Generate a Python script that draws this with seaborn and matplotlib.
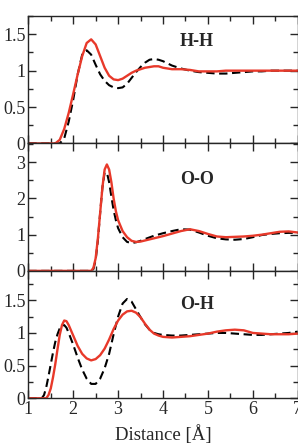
import matplotlib
matplotlib.use("Agg")
import matplotlib.pyplot as plt
import seaborn as sns
from matplotlib.ticker import MultipleLocator, FormatStrFormatter

# radial distribution functions
x_hh = [1.0, 1.2, 1.4, 1.5, 1.6, 1.7, 1.8, 1.9, 2.0, 2.1, 2.2, 2.3, 2.4, 2.5, 2.6, 2.7, 2.8, 2.9, 3.0,
        3.1, 3.2, 3.3, 3.4, 3.5, 3.6, 3.7, 3.8, 3.9, 4.0, 4.2, 4.4, 4.6, 4.8, 5.0, 5.2, 5.4, 5.6,
        5.8, 6.0, 6.2, 6.4, 6.6, 6.8, 7.0]
hh_red = [0, 0, 0, 0, 0.0, 0.05, 0.2, 0.42, 0.68, 0.95, 1.2, 1.38, 1.43, 1.36, 1.2, 1.04, 0.93, 0.88,
          0.87, 0.89, 0.93, 0.97, 1.0, 1.02, 1.04, 1.05, 1.06, 1.06, 1.04, 1.02, 1.02, 1.01, 0.99,
          0.99, 0.99, 1.0, 1.0, 1.0, 1.0, 1.0, 1.0, 1.0, 1.0, 1.0]
hh_black = [0, 0, 0, 0, 0, 0.0, 0.07, 0.3, 0.6, 0.95, 1.22, 1.28, 1.22, 1.08, 0.95, 0.86, 0.8, 0.77,
            0.76, 0.77, 0.82, 0.9, 0.98, 1.05, 1.11, 1.15, 1.16, 1.15, 1.13, 1.07, 1.03, 1.0, 0.98,
            0.97, 0.96, 0.96, 0.97, 0.98, 0.99, 0.99, 1.0, 1.0, 1.0, 1.0]

x_oo = [1.0, 1.5, 2.0, 2.3, 2.4, 2.45, 2.5, 2.55, 2.6, 2.65, 2.7, 2.75, 2.8, 2.85, 2.9, 2.95, 3.0,
        3.1, 3.2, 3.3, 3.4, 3.5, 3.6, 3.8, 4.0, 4.2, 4.4, 4.6, 4.8, 5.0, 5.2, 5.4, 5.6, 5.8, 6.0,
        6.2, 6.4, 6.6, 6.8, 7.0]
oo_red = [0, 0, 0, 0, 0.0, 0.08, 0.35, 0.9, 1.6, 2.3, 2.8, 2.94, 2.8, 2.45, 2.0, 1.65, 1.4, 1.1,
          0.93, 0.83, 0.8, 0.81, 0.84, 0.9, 0.96, 1.03, 1.1, 1.15, 1.1, 1.02, 0.95, 0.93, 0.94,
          0.95, 0.97, 1.0, 1.04, 1.08, 1.09, 1.06]
oo_black = [0, 0, 0, 0, 0, 0.05, 0.3, 0.85, 1.6, 2.3, 2.72, 2.72, 2.45, 2.05, 1.68, 1.4, 1.18, 0.93,
            0.8, 0.77, 0.79, 0.83, 0.88, 0.97, 1.04, 1.1, 1.15, 1.14, 1.06, 0.97, 0.9, 0.87, 0.86,
            0.88, 0.93, 0.99, 1.02, 1.04, 1.05, 1.05]

x_oh = [1.0, 1.2, 1.3, 1.35, 1.4, 1.45, 1.5, 1.55, 1.6, 1.65, 1.7, 1.75, 1.8, 1.85, 1.9, 2.0, 2.1,
        2.2, 2.3, 2.4, 2.5, 2.6, 2.7, 2.8, 2.9, 3.0, 3.1, 3.2, 3.3, 3.4, 3.5, 3.6, 3.7, 3.8, 3.9,
        4.0, 4.2, 4.4, 4.6, 4.8, 5.0, 5.2, 5.4, 5.6, 5.8, 6.0, 6.2, 6.4, 6.6, 6.8, 7.0]
oh_red = [0, 0, 0, 0, 0.0, 0.05, 0.15, 0.32, 0.52, 0.75, 0.97, 1.12, 1.19, 1.18, 1.12, 0.96, 0.8,
          0.68, 0.61, 0.58, 0.6, 0.66, 0.76, 0.9, 1.06, 1.19, 1.28, 1.33, 1.34, 1.31, 1.24, 1.14,
          1.05, 0.99, 0.96, 0.94, 0.93, 0.94, 0.95, 0.97, 0.99, 1.02, 1.04, 1.05, 1.04, 1.0, 0.99,
          0.98, 0.98, 0.98, 0.99]
oh_black = [0, 0, 0.0, 0.05, 0.17, 0.34, 0.52, 0.7, 0.86, 0.98, 1.07, 1.11, 1.12, 1.08, 1.0, 0.82,
            0.62, 0.44, 0.3, 0.22, 0.22, 0.3, 0.46, 0.68, 0.98, 1.25, 1.45, 1.52, 1.48, 1.36, 1.24,
            1.13, 1.05, 1.0, 0.98, 0.97, 0.96, 0.96, 0.97, 0.98, 0.99, 1.0, 1.0, 0.99, 0.98, 0.97,
            0.97, 0.98, 0.99, 1.0, 1.02]

panels = [
    ("H-H", x_hh, hh_red, hh_black, 1.75, 0.5, 1.40),
    ("O-O", x_oo, oo_red, oo_black, 3.52, 1.0, 2.53),
    ("O-H", x_oh, oh_red, oh_black, 1.95, 0.5, 1.44),
]

sns.set_style("ticks")
plt.rcParams["font.family"] = ["Liberation Serif", "DejaVu Serif"]

fig, axes = plt.subplots(3, 1, figsize=(2.98, 4.46), dpi=100, sharex=True)
fig.subplots_adjust(left=0.095, right=0.999, top=0.964, bottom=0.107, hspace=0)

for ax, (name, xs, red, black, ytop, ystep, ylab) in zip(axes, panels):
    sns.lineplot(x=xs, y=black, ax=ax, color="black", lw=1.5, dashes=False,
                 linestyle=(0, (4, 2.2)))
    sns.lineplot(x=xs, y=red, ax=ax, color="#e8392a", lw=1.7)
    ax.set_xlim(1, 7)
    ax.set_ylim(0, ytop)
    ax.xaxis.set_major_locator(MultipleLocator(1))
    ax.xaxis.set_minor_locator(MultipleLocator(0.5))
    ax.yaxis.set_major_locator(MultipleLocator(ystep))
    ax.yaxis.set_minor_locator(MultipleLocator(ystep / 2))
    ax.yaxis.set_major_formatter(FormatStrFormatter("%g"))
    ax.tick_params(which="both", direction="in", top=True, right=True, width=1, labelsize=13, pad=2)
    ax.tick_params(which="major", length=6)
    ax.tick_params(which="minor", length=3.5)
    for sp in ax.spines.values():
        sp.set_linewidth(1)
    ax.text(4.75, ylab, name, fontsize=13, fontweight="bold", ha="center", va="center")

axes[-1].set_xlabel("Distance [Å]", fontsize=13.5, labelpad=5)
fig.savefig("out.png", dpi=100, facecolor="white")
